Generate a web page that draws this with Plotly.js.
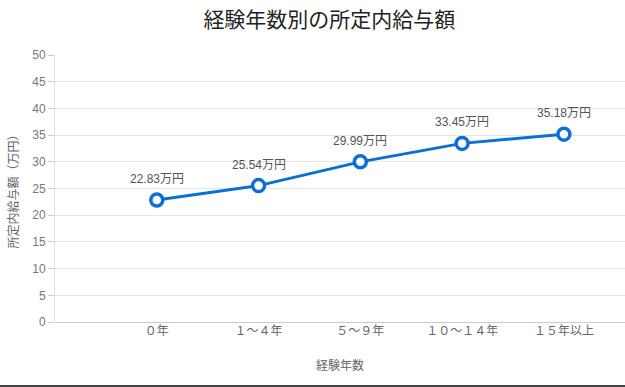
<!DOCTYPE html>
<html><head><meta charset="utf-8">
<script src="https://cdn.plot.ly/plotly-3.0.1.min.js"></script>
<style>html,body{margin:0;padding:0;background:#fff}#c{width:625px;height:387px}</style>
</head><body><div id="c"></div>
<script>
const categories = ['０年', '１～４年', '５～９年', '１０～１４年', '１５年以上'];
const salary = [22.83, 25.54, 29.99, 33.45, 35.18];
const labels = salary.map(v => v.toFixed(2) + '万円');
const yTicks = [0,5,10,15,20,25,30,35,40,45,50];

const font = '"Liberation Sans", Arial, "Noto Sans CJK JP", sans-serif';
const trace = {
  x: categories, y: salary, type: 'scatter', mode: 'lines+markers',
  line: {color: '#0b6fd6', width: 3},
  marker: {size: 12, color: '#ffffff', line: {color: '#0b6fd6', width: 3.5}},
  hoverinfo: 'none', cliponaxis: false
};
const annotations = categories.map((c, i) => ({
  x: c, y: salary[i], xref: 'x', yref: 'y', text: labels[i], showarrow: false,
  yshift: 21, font: {family: font, size: 12, color: '#555555'}
}));
const layout = {
  width: 625, height: 387,
  margin: {l: 55, r: 0, t: 55, b: 65},
  paper_bgcolor: '#fff', plot_bgcolor: '#fff',
  showlegend: false,
  title: {text: '経験年数別の所定内給与額', x: 0.527, xanchor: 'center', y: 0.968, yanchor: 'top',
          font: {family: font, size: 21, color: '#222222'}},
  xaxis: {
    type: 'category', categoryorder: 'array', categoryarray: categories,
    range: [-1.0, 4.6], showgrid: false, zeroline: false, showline: false,
    ticks: '', tickfont: {family: font, size: 12, color: '#666666'},
    title: {text: '経験年数', font: {family: font, size: 12, color: '#666666'}, standoff: 24}
  },
  yaxis: {
    range: [0, 50], tickvals: yTicks, ticktext: yTicks.map(String),
    showgrid: true, gridcolor: '#e6e6e6', gridwidth: 1,
    zeroline: true, zerolinecolor: '#cccccc', zerolinewidth: 1,
    showline: true, linecolor: '#e0e0e0', linewidth: 1,
    ticks: 'outside', ticklen: 6, tickcolor: '#cccccc',
    tickfont: {family: font, size: 12, color: '#777777'},
    title: {text: '所定内給与額（万円）', font: {family: font, size: 12, color: '#666666'}, standoff: 11}
  },
  shapes: [{type: 'line', xref: 'paper', yref: 'paper', x0: -0.1, x1: 1.1, y0: -0.24, y1: -0.24, line: {color: '#444444', width: 2}}],
  annotations: annotations
};
Plotly.newPlot('c', [trace], layout, {displayModeBar: false, staticPlot: true});
</script></body></html>
